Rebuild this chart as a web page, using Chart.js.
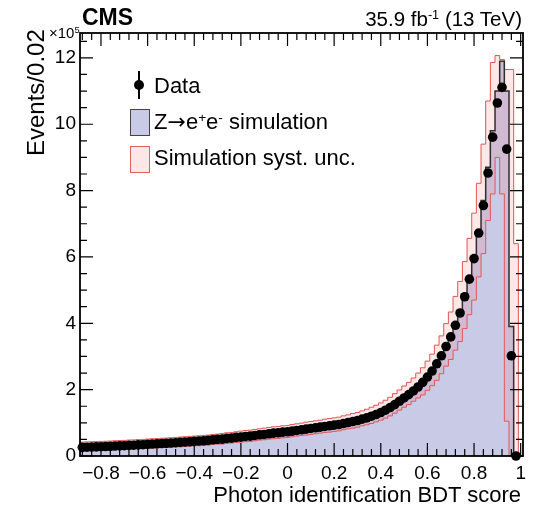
<!DOCTYPE html>
<html><head><meta charset="utf-8">
<script src="https://cdn.jsdelivr.net/npm/chart.js@4.4.1/dist/chart.umd.min.js"></script>
<style>
html,body{margin:0;padding:0;background:#fff;}
#wrap{position:relative;width:538px;height:512px;overflow:hidden;font-family:"Liberation Sans",Arial,Helvetica,sans-serif;color:#000;}
#c{position:absolute;left:0;top:0;}
.t{position:absolute;white-space:nowrap;line-height:1;}
.t sup{font-size:0.62em;vertical-align:0.55em;line-height:0;}
.arr{font-family:"DejaVu Sans",sans-serif;}
.box{position:absolute;box-sizing:border-box;}
</style></head><body>
<div id="wrap">
<canvas id="c" width="538" height="512"></canvas>
<div class="t" id="cms" style="left:82px;top:6px;font-size:23px;font-weight:bold;">CMS</div>
<div class="t" id="lumi" style="right:16px;top:9px;font-size:20.5px;">35.9 fb<sup>-1</sup> (13 TeV)</div>
<div class="t" id="expo" style="left:49px;top:25px;font-size:15px;">×10<sup>5</sup></div>
<div class="t" id="ytitle" style="font-size:24px;transform-origin:0 0;transform:rotate(-90deg);">Events/0.02</div>
<div class="t" id="xtitle" style="right:17px;top:484px;font-size:22px;">Photon identification BDT score</div>
<div class="box" style="left:138.2px;top:71px;width:1.6px;height:28px;background:#000;"></div>
<div class="box" style="left:134px;top:80px;width:10px;height:10px;border-radius:50%;background:#000;"></div>
<div class="t" style="left:154px;top:75.4px;font-size:22px;">Data</div>
<div class="box" style="left:130px;top:109px;width:20px;height:27px;background:#c9cae6;border:1.5px solid #444;"></div>
<div class="t" style="left:154px;top:111.4px;font-size:22px;">Z<span class="arr">→</span>e<sup>+</sup>e<sup>-</sup> simulation</div>
<div class="box" style="left:130px;top:146px;width:20px;height:27px;background:#fde6e6;border:1.5px solid #e06060;"></div>
<div class="t" style="left:154px;top:147.4px;font-size:22px;">Simulation syst. unc.</div>
</div>
<script>
// bin centres of the 0.02-wide histogram bins
const binCenters = [
-0.88,-0.86,-0.84,-0.82,-0.80,-0.78,-0.76,-0.74,-0.72,-0.70,
-0.68,-0.66,-0.64,-0.62,-0.60,-0.58,-0.56,-0.54,-0.52,-0.50,
-0.48,-0.46,-0.44,-0.42,-0.40,-0.38,-0.36,-0.34,-0.32,-0.30,
-0.28,-0.26,-0.24,-0.22,-0.20,-0.18,-0.16,-0.14,-0.12,-0.10,
-0.08,-0.06,-0.04,-0.02,0.00,0.02,0.04,0.06,0.08,0.10,
0.12,0.14,0.16,0.18,0.20,0.22,0.24,0.26,0.28,0.30,
0.32,0.34,0.36,0.38,0.40,0.42,0.44,0.46,0.48,0.50,
0.52,0.54,0.56,0.58,0.60,0.62,0.64,0.66,0.68,0.70,
0.72,0.74,0.76,0.78,0.80,0.82,0.84,0.86,0.88,0.90,
0.92,0.94,0.96,0.98,1.00];
const binWidth = 0.02;
// values in units of 1e5 events
const dataValues = [
0.26,0.265,0.27,0.275,0.28,0.285,0.29,0.30,0.305,0.31,
0.32,0.325,0.335,0.34,0.35,0.36,0.365,0.375,0.38,0.39,
0.40,0.41,0.42,0.43,0.44,0.45,0.46,0.47,0.49,0.50,
0.51,0.53,0.54,0.56,0.57,0.59,0.60,0.62,0.64,0.65,
0.67,0.69,0.70,0.72,0.73,0.75,0.77,0.79,0.81,0.83,
0.85,0.87,0.89,0.91,0.93,0.95,0.98,1.01,1.04,1.07,
1.11,1.15,1.20,1.25,1.31,1.38,1.46,1.55,1.65,1.75,
1.85,1.96,2.08,2.22,2.38,2.56,2.78,3.02,3.30,3.59,
3.94,4.31,4.80,5.33,5.95,6.72,7.55,8.53,9.61,10.64,
11.11,9.25,3.02,0,null];
const mcValues = [
0.26,0.265,0.27,0.275,0.28,0.285,0.29,0.30,0.305,0.31,
0.32,0.325,0.335,0.34,0.35,0.36,0.365,0.375,0.38,0.39,
0.40,0.41,0.42,0.43,0.44,0.45,0.46,0.47,0.49,0.50,
0.51,0.53,0.54,0.56,0.57,0.59,0.60,0.62,0.64,0.65,
0.67,0.69,0.70,0.72,0.73,0.75,0.77,0.79,0.81,0.83,
0.85,0.87,0.89,0.91,0.93,0.95,0.98,1.01,1.04,1.07,
1.11,1.15,1.20,1.25,1.31,1.38,1.46,1.55,1.65,1.75,
1.85,1.96,2.08,2.22,2.38,2.56,2.78,3.02,3.30,3.59,
3.94,4.31,4.80,5.33,5.95,6.80,7.70,8.70,9.80,11.00,
11.90,11.00,3.90,0,0];
const systUp = [
0.42,0.425,0.43,0.435,0.44,0.445,0.45,0.46,0.465,0.47,
0.48,0.485,0.495,0.50,0.51,0.52,0.525,0.535,0.54,0.55,
0.56,0.57,0.58,0.59,0.60,0.61,0.62,0.63,0.65,0.66,
0.68,0.70,0.71,0.73,0.75,0.77,0.78,0.80,0.82,0.84,
0.86,0.88,0.89,0.91,0.92,0.95,0.97,0.99,1.02,1.04,
1.06,1.08,1.11,1.13,1.15,1.17,1.21,1.24,1.28,1.31,
1.36,1.41,1.47,1.53,1.60,1.68,1.77,1.88,1.99,2.11,
2.22,2.35,2.50,2.66,2.86,3.07,3.34,3.62,3.99,4.34,
4.81,5.26,5.86,6.56,7.32,8.22,9.40,10.70,11.86,12.07,
11.95,11.65,11.65,6.40,0];
const systDown = [
0.16,0.165,0.17,0.175,0.18,0.185,0.19,0.20,0.20,0.21,
0.21,0.215,0.22,0.225,0.23,0.24,0.245,0.255,0.26,0.27,
0.27,0.28,0.29,0.30,0.31,0.31,0.32,0.33,0.35,0.36,
0.36,0.38,0.39,0.41,0.42,0.43,0.44,0.46,0.48,0.49,
0.51,0.52,0.53,0.55,0.56,0.58,0.60,0.62,0.63,0.65,
0.67,0.69,0.71,0.72,0.74,0.76,0.79,0.82,0.84,0.87,
0.91,0.94,0.98,1.03,1.08,1.14,1.21,1.29,1.38,1.47,
1.55,1.65,1.75,1.84,1.98,2.12,2.28,2.48,2.71,2.91,
3.19,3.45,3.84,4.26,4.70,5.40,6.10,7.10,7.90,9.00,
7.90,1.05,0,0,0];
const xTickValues = [-0.8,-0.6,-0.4,-0.2,0,0.2,0.4,0.6,0.8,1];
const xTickLabels = ['\u22120.8','\u22120.6','\u22120.4','\u22120.2','0','0.2','0.4','0.6','0.8','1'];
const yTickValues = [0,2,4,6,8,10,12];
const yTickLabels = ['0','2','4','6','8','10','12'];

// position the rotated y title (top end at y=29)
(function(){
  const el = document.getElementById('ytitle');
  const w = el.offsetWidth;
  el.style.left = '24px';
  el.style.top = (29 + w) + 'px';
})();

function histPoints(vals){
  const pts = vals.map((v,i)=>({x: +(binCenters[i]-binWidth/2).toFixed(3), y: v}));
  const last = vals.length-1;
  pts.push({x: +(binCenters[last]+binWidth/2).toFixed(3), y: vals[last]});
  return pts;
}
const dataPts = binCenters.map((x,i)=>({x:x, y:dataValues[i]}));

const FONT = '"Liberation Sans", Arial, Helvetica, sans-serif';

const rootFrame = {
  id:'rootFrame',
  afterDatasetsDraw(chart){
    const {ctx, chartArea:a, scales:{x,y}} = chart;
    ctx.save();
    ctx.strokeStyle = '#000';
    ctx.lineWidth = 1.2;
    ctx.beginPath();
    const MAJ = 13, MIN = 7;
    for (let k=-25;k<=26;k++){
      const v = +(k*0.04).toFixed(3);
      if (v < x.min || v > x.max) continue;
      const len = (k%5===0) ? MAJ : MIN;
      const p = x.getPixelForValue(v);
      ctx.moveTo(p, a.bottom); ctx.lineTo(p, a.bottom-len);
      ctx.moveTo(p, a.top); ctx.lineTo(p, a.top+len);
    }
    for (let k=0;k<=26;k++){
      const v = k*0.5;
      if (v > y.max) continue;
      const len = (k%4===0) ? MAJ : MIN;
      const p = y.getPixelForValue(v);
      ctx.moveTo(a.left, p); ctx.lineTo(a.left+len, p);
      ctx.moveTo(a.right, p); ctx.lineTo(a.right-len, p);
    }
    ctx.stroke();
    ctx.lineWidth = 1.8;
    ctx.strokeRect(a.left, a.top, a.right-a.left, a.bottom-a.top);
    ctx.restore();
  }
};

new Chart(document.getElementById('c'), {
  type:'line',
  data:{datasets:[
    {label:'Data', data:dataPts, showLine:false, pointRadius:4.8, pointHoverRadius:4.8,
     pointBackgroundColor:'#000', pointBorderColor:'#000', pointBorderWidth:0, clip:false, order:0},
    {label:'MC outline', data:histPoints(mcValues), stepped:true, borderColor:'#2e2e2e', borderWidth:1.5,
     pointRadius:0, fill:false, order:1},
    {label:'Syst up', data:histPoints(systUp), stepped:true, borderColor:'#e25555', borderWidth:1,
     pointRadius:0, fill:'+1', backgroundColor:'rgba(245,110,110,0.17)', order:2},
    {label:'Syst down', data:histPoints(systDown), stepped:true, borderColor:'#e25555', borderWidth:1,
     pointRadius:0, fill:false, order:3},
    {label:'MC fill', data:histPoints(mcValues), stepped:true, borderColor:'rgba(0,0,0,0)', borderWidth:0,
     backgroundColor:'#c9cae6', pointRadius:0, fill:'origin', order:4}
  ]},
  options:{
    responsive:false, animation:false, devicePixelRatio:1,
    layout:{padding:{top:33,right:15,left:0,bottom:0}},
    plugins:{legend:{display:false}, tooltip:{enabled:false}},
    scales:{
      x:{type:'linear', min:-0.89, max:1.01,
         grid:{display:false, drawTicks:false}, border:{display:false},
         ticks:{font:{family:FONT,size:19}, color:'#000', padding:6, maxRotation:0, autoSkip:false,
           callback:(v)=>{const i=xTickValues.findIndex(t=>Math.abs(t-v)<1e-6); return i>=0?xTickLabels[i]:'';}},
         afterBuildTicks:(s)=>{s.ticks = xTickValues.map(v=>({value:v}));},
         afterFit:(s)=>{s.height = 56;}},
      y:{type:'linear', min:0, max:12.75,
         grid:{display:false, drawTicks:false}, border:{display:false},
         ticks:{font:{family:FONT,size:19}, color:'#000', padding:4, autoSkip:false,
           callback:(v)=>{const i=yTickValues.findIndex(t=>Math.abs(t-v)<1e-6); return i>=0?yTickLabels[i]:'';}},
         afterBuildTicks:(s)=>{s.ticks = yTickValues.map(v=>({value:v}));},
         afterFit:(s)=>{s.width = 80;}}
    }
  },
  plugins:[rootFrame]
});
</script>
</body></html>
